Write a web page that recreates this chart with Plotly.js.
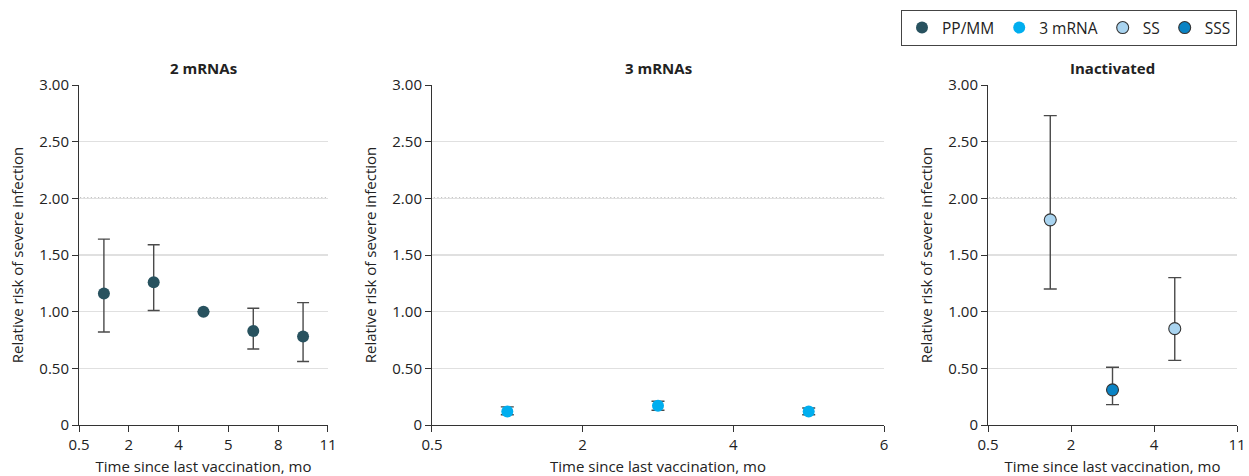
<!DOCTYPE html>
<html>
<head>
<meta charset="utf-8">
<script src="https://cdn.plot.ly/plotly-3.0.1.min.js"></script>
<style>html,body{margin:0;padding:0;background:#fff;}#chart{width:1249px;height:476px;}</style>
</head>
<body>
<div id="chart"></div>
<script>
// ---- Data ----
const panelTitles = ['2 mRNAs', '3 mRNAs', 'Inactivated'];
const panel1Ticks = ['0.5', '2', '4', '5', '8', '11'];
const panel2Ticks = ['0.5', '2', '4', '6'];
const panel3Ticks = ['0.5', '2', '4', '11'];
const yTickVals = [0, 0.5, 1, 1.5, 2, 2.5, 3];
const yTickText = ['0', '0.50', '1.00', '1.50', '2.00', '2.50', '3.00'];
const refLine = 2;

// PP/MM (2 mRNAs panel) – position = interval index + 0.5
const ppmmPos = [0.5, 1.5, 2.5, 3.5, 4.5];
const ppmmRR  = [1.16, 1.26, 1.00, 0.83, 0.78];
const ppmmLo  = [0.82, 1.01, 1.00, 0.67, 0.56];
const ppmmHi  = [1.64, 1.59, 1.00, 1.03, 1.08];

// 3 mRNA (3 mRNAs panel)
const mrnaPos = [0.5, 1.5, 2.5];
const mrnaRR  = [0.12, 0.17, 0.12];
const mrnaLo  = [0.09, 0.13, 0.09];
const mrnaHi  = [0.16, 0.21, 0.15];

// SS (Inactivated panel)
const ssPos = [0.75, 2.25];
const ssRR  = [1.81, 0.85];
const ssLo  = [1.20, 0.57];
const ssHi  = [2.73, 1.30];

// SSS (Inactivated panel)
const sssPos = [1.5];
const sssRR  = [0.31];
const sssLo  = [0.18];
const sssHi  = [0.51];

// ---- Styling ----
const FONT = '"Open Sans", "Noto Sans", sans-serif';
const TXT = '#222';
const colors = {ppmm: '#28525f', mrna: '#00aeef', ss: '#a9d4f0', sss: '#0a83c4'};

function errY(rr, lo, hi, w) {
  return {
    type: 'data', symmetric: false,
    array: hi.map((h, i) => h - rr[i]),
    arrayminus: rr.map((r, i) => r - lo[i]),
    color: '#4a4a4a', thickness: 1.4, width: w
  };
}
function trace(name, x, rr, lo, hi, xa, ya, color, outline, w) {
  return {
    type: 'scatter', mode: 'markers', name: name,
    x: x, y: rr, xaxis: xa, yaxis: ya,
    error_y: errY(rr, lo, hi, w),
    marker: {size: 12, color: color, line: {width: outline ? 1.1 : 0, color: '#333'}},
    hoverinfo: 'x+y'
  };
}

const data = [
  trace('PP/MM', ppmmPos, ppmmRR, ppmmLo, ppmmHi, 'x', 'y', colors.ppmm, false, 6),
  trace('3 mRNA', mrnaPos, mrnaRR, mrnaLo, mrnaHi, 'x2', 'y2', colors.mrna, false, 6.5),
  trace('SS', ssPos, ssRR, ssLo, ssHi, 'x3', 'y3', colors.ss, true, 6.5),
  trace('SSS', sssPos, sssRR, sssLo, sssHi, 'x3', 'y3', colors.sss, true, 6.5)
];

const domains = [[0, 0.215], [0.3048, 0.6952], [0.785, 1]];
const tickSets = [panel1Ticks, panel2Ticks, panel3Ticks];

function xaxis(i) {
  const t = tickSets[i];
  return {
    domain: domains[i], anchor: i === 0 ? 'y' : 'y' + (i + 1),
    range: [0, t.length - 1], tickvals: t.map((_, k) => k), ticktext: t,
    showgrid: false, zeroline: false, showline: true, linecolor: '#333', linewidth: 1,
    ticks: 'outside', ticklen: 6, tickcolor: '#333', tickwidth: 1,
    tickfont: {family: FONT, size: 15, color: TXT},
    title: {text: 'Time since last vaccination, mo', font: {family: FONT, size: 15, color: TXT}, standoff: 10},
    fixedrange: true
  };
}
function yaxis(i) {
  return {
    domain: [0, 1], anchor: i === 0 ? 'x' : 'x' + (i + 1),
    range: [0, 3], tickvals: yTickVals, ticktext: yTickText,
    showgrid: true, gridcolor: '#e0e0e0', gridwidth: 1.3, zeroline: false,
    showline: true, linecolor: '#333', linewidth: 1,
    ticks: 'outside', ticklen: 6, tickcolor: '#333', tickwidth: 1,
    tickfont: {family: FONT, size: 15, color: TXT},
    title: {text: 'Relative risk of severe infection', font: {family: FONT, size: 15, color: TXT}, standoff: 12},
    fixedrange: true
  };
}

const shapes = [];
const annotations = [];
for (let i = 0; i < 3; i++) {
  const xr = i === 0 ? 'x domain' : 'x' + (i + 1) + ' domain';
  const yr = i === 0 ? 'y' : 'y' + (i + 1);
  shapes.push({type: 'line', xref: xr, yref: yr, x0: 0.004, x1: 1, y0: refLine, y1: refLine, layer: 'below', line: {color: '#ffffff', width: 2.5}});
  shapes.push({type: 'line', xref: xr, yref: yr, x0: 0.004, x1: 1, y0: refLine, y1: refLine, layer: 'below', line: {color: '#111111', width: 1.2, dash: '1.2px,2.4px'}});
  annotations.push({
    text: '<b>' + panelTitles[i] + '</b>', xref: 'paper', yref: 'paper',
    x: (domains[i][0] + domains[i][1]) / 2, y: 1, yshift: 17, xanchor: 'center', yanchor: 'middle',
    showarrow: false, font: {family: FONT, size: 15, color: TXT}
  });
}

const layout = {
  width: 1249, height: 476,
  margin: {l: 79, r: 12, t: 85, b: 51},
  paper_bgcolor: '#fff', plot_bgcolor: '#fff',
  showlegend: true,
  legend: {
    orientation: 'h', x: 1, xanchor: 'right', y: 0.979, yref: 'container', yanchor: 'top',
    bordercolor: '#444', borderwidth: 1, bgcolor: '#fff',
    font: {family: FONT, size: 15.5, color: TXT}, itemwidth: 30
  },
  xaxis: xaxis(0), yaxis: yaxis(0),
  xaxis2: xaxis(1), yaxis2: yaxis(1),
  xaxis3: xaxis(2), yaxis3: yaxis(2),
  shapes: shapes, annotations: annotations
};

Plotly.newPlot('chart', data, layout, {displayModeBar: false, staticPlot: true});
</script>
</body>
</html>
